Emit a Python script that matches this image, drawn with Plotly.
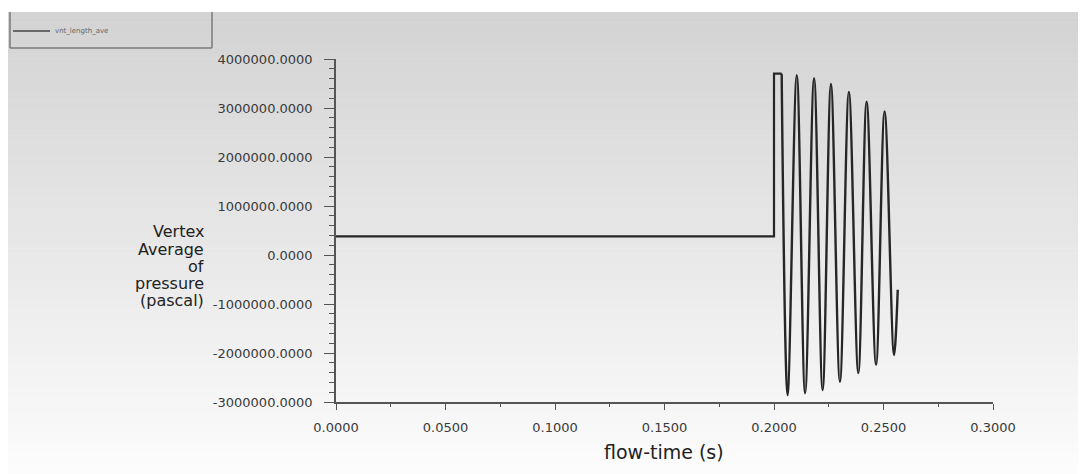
import plotly.graph_objects as go

# ---------------- data ----------------
flat_time = [0.0, 0.2000, 0.2000, 0.2035]
flat_pressure = [380000, 380000, 3700000, 3700000]

osc_time = [0.2035, 0.2062, 0.2104, 0.2142, 0.2183, 0.2222, 0.2260, 0.2301,
            0.2342, 0.2385, 0.2423, 0.2466, 0.2505, 0.2548, 0.2565]
osc_pressure = [3700000, -2860000, 3670000, -2820000, 3610000, -2760000,
                3490000, -2590000, 3330000, -2410000, 3130000, -2240000,
                2930000, -2040000, -710000]

x_tick_vals = [0.0, 0.05, 0.10, 0.15, 0.20, 0.25, 0.30]
x_tick_text = ["0.0000", "0.0500", "0.1000", "0.1500", "0.2000", "0.2500", "0.3000"]
y_tick_vals = [-3000000, -2000000, -1000000, 0, 1000000, 2000000, 3000000, 4000000]
y_tick_text = ["-3000000.0000", "-2000000.0000", "-1000000.0000", "0.0000",
               "1000000.0000", "2000000.0000", "3000000.0000", "4000000.0000"]

series_name = "vnt_length_ave"
x_title = "flow-time (s)"
y_title_lines = ["Vertex", "Average", "of", "pressure", "(pascal)"]

# ---------------- layout geometry (reference pixel coords) ----------------
OFF = 8                       # page body margin
REF_W, REF_H = 1086, 474
W, H = REF_W - OFF, REF_H - OFF
AX_L, AX_R, AX_T, AX_B = 336, 993, 59, 402   # plot area in reference pixels
L, T = AX_L - OFF, AX_T - OFF
R, B = REF_W - AX_R, REF_H - AX_B
PW, PH = AX_R - AX_L, AX_B - AX_T


def px(x):
    return (x - AX_L) / PW


def py(y):
    return (AX_B - y) / PH


AXIS = "#555555"
LINE = "#262626"
TICKFONT = dict(family="DejaVu Sans", size=13, color="#3a3a3a")

fig = go.Figure()
fig.add_trace(go.Scatter(x=flat_time, y=flat_pressure, mode="lines",
                         name=series_name,
                         line=dict(color=LINE, width=2.2)))
fig.add_trace(go.Scatter(x=osc_time, y=osc_pressure, mode="lines",
                         name=series_name, showlegend=False,
                         line=dict(color=LINE, width=2.4, shape="spline",
                                   smoothing=1.0)))

# gradient background via stripes
shapes = []
top, bottom = 12, REF_H
n = 90
for i in range(n):
    y0 = top + (bottom - top) * i / n
    y1 = top + (bottom - top) * (i + 1) / n + 0.6
    g = int(round(211 + (252 - 211) * (i / (n - 1))))
    shapes.append(dict(type="rect", xref="paper", yref="paper",
                       x0=px(0), x1=px(REF_W + 10), y0=py(y1), y1=py(y0),
                       fillcolor=f"rgb({g},{g},{g})", line=dict(width=0),
                       layer="below"))

# legend box (manual; top edge is cut off in the reference)
box = dict(color="#7a7a7a", width=1.5)
for (xa, ya, xb, yb) in [(10, 12, 10, 48), (10, 48, 212, 48), (212, 12, 212, 48)]:
    shapes.append(dict(type="line", xref="paper", yref="paper",
                       x0=px(xa), x1=px(xb), y0=py(ya), y1=py(yb), line=box))
shapes.append(dict(type="line", xref="paper", yref="paper",
                   x0=px(13), x1=px(50), y0=py(31), y1=py(31),
                   line=dict(color="#444444", width=1.5)))

annotations = [
    dict(text=series_name, xref="paper", yref="paper", x=px(53), y=py(31),
         xanchor="left", yanchor="middle", showarrow=False,
         font=dict(family="DejaVu Sans", size=7, color="#666666")),
    dict(text=x_title, xref="paper", yref="paper", x=px(664), y=py(452),
         xanchor="center", yanchor="middle", showarrow=False,
         font=dict(family="DejaVu Sans", size=19, color="#222222")),
]
line_y = [231, 249, 266, 283, 300]
for txt, yy in zip(y_title_lines, line_y):
    annotations.append(dict(text=txt, xref="paper", yref="paper", x=px(206),
                            y=py(yy), xanchor="right", yanchor="middle",
                            showarrow=False,
                            font=dict(family="DejaVu Sans", size=16,
                                      color="#222222")))

fig.update_layout(
    width=W, height=H, autosize=False,
    margin=dict(l=L, r=R, t=T, b=B, pad=0),
    paper_bgcolor="white", plot_bgcolor="rgba(0,0,0,0)",
    showlegend=False,
    shapes=shapes, annotations=annotations,
    xaxis=dict(range=[0, 0.3], showgrid=False, zeroline=False,
               showline=True, linecolor=AXIS, linewidth=1.5,
               ticks="outside", ticklen=6, tickwidth=1, tickcolor=AXIS,
               tickmode="array", tickvals=x_tick_vals, ticktext=x_tick_text,
               tickfont=TICKFONT, ticklabelstandoff=7,
               minor=dict(tickmode="linear", tick0=0, dtick=0.025,
                          ticks="outside", ticklen=3, tickcolor=AXIS,
                          showgrid=False)),
    yaxis=dict(range=[-3000000, 4000000], showgrid=False, zeroline=False,
               showline=True, linecolor=AXIS, linewidth=1.5,
               ticks="outside", ticklen=10, tickwidth=1, tickcolor=AXIS,
               tickmode="array", tickvals=y_tick_vals, ticktext=y_tick_text,
               tickfont=TICKFONT, ticklabelstandoff=9,
               minor=dict(tickmode="linear", tick0=0, dtick=200000,
                          ticks="outside", ticklen=5, tickcolor=AXIS,
                          showgrid=False)),
)

fig.write_html("out.html")
